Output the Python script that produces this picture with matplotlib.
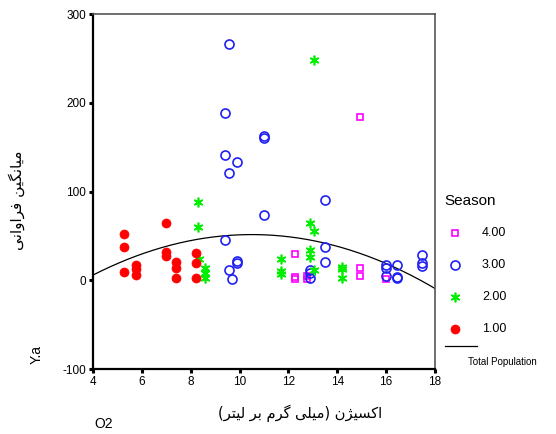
import numpy as np
import matplotlib
matplotlib.use("Agg")
import matplotlib.pyplot as plt
from matplotlib.lines import Line2D

# ---------------- data ----------------
s1_x = [5.25, 5.25, 5.25, 5.75, 5.75, 5.75, 7.0, 7.0, 7.0, 7.4, 7.4, 7.4, 8.2, 8.2, 8.2]
s1_y = [52, 37, 9, 17, 13, 6, 64, 32, 27, 21, 14, 3, 31, 19, 2]

s2_x = [8.3, 8.3, 8.35, 8.6, 8.6, 8.6, 11.7, 11.7, 11.7, 12.9, 12.9, 12.9, 13.05, 13.05, 13.05, 14.2, 14.2, 14.2]
s2_y = [88, 60, 24, 14, 8, 3, 24, 10, 7, 65, 34, 26, 55, 12, 248, 15, 13, 3]

s3_x = [9.55, 9.4, 11.0, 11.0, 9.4, 9.9, 9.55, 13.5, 11.0, 9.4, 13.5, 13.5, 9.55, 9.7, 9.9, 9.9,
        12.9, 12.9, 12.9, 16.0, 16.0, 16.0, 16.45, 16.45, 16.45, 17.45, 17.45, 17.45]
s3_y = [266, 188, 163, 160, 141, 133, 121, 90, 74, 45, 37, 21, 12, 1.5, 22, 19,
        12, 8, 3, 17, 14, 5, 17, 4, 3, 29, 20, 16]

s4_x = [12.25, 12.25, 12.25, 12.75, 12.75, 14.95, 14.95, 14.95, 16.0]
s4_y = [30, 4, 1.5, 5, 1, 184, 14, 5, 1]

# quadratic "Total Population" fit line, coefficients
fit_coef = [-1.08, 22.68, -67.6]
fit_range = [4, 18]

season_labels = ["4.00", "3.00", "2.00", "1.00"]
x_ticks = [4, 6, 8, 10, 12, 14, 16, 18]
y_ticks = [-100, 0, 100, 200, 300]

ylabel_text_logical = "میانگین فراوانی"
xlabel_text_logical = "اکسیژن (میلی گرم بر لیتر)"

# ---------------- simple Arabic/Persian shaping (presentation forms) ----------------
FORMS = {
    "ا": ("\uFE8D", "\uFE8E"),
    "ر": ("\uFEAD", "\uFEAE"),
    "ز": ("\uFEAF", "\uFEB0"),
    "ژ": ("\uFB8A", "\uFB8B"),
    "و": ("\uFEED", "\uFEEE"),
    "د": ("\uFEA9", "\uFEAA"),
    "ب": ("\uFE8F", "\uFE90", "\uFE91", "\uFE92"),
    "ت": ("\uFE95", "\uFE96", "\uFE97", "\uFE98"),
    "س": ("\uFEB1", "\uFEB2", "\uFEB3", "\uFEB4"),
    "ف": ("\uFED1", "\uFED2", "\uFED3", "\uFED4"),
    "ل": ("\uFEDD", "\uFEDE", "\uFEDF", "\uFEE0"),
    "م": ("\uFEE1", "\uFEE2", "\uFEE3", "\uFEE4"),
    "ن": ("\uFEE5", "\uFEE6", "\uFEE7", "\uFEE8"),
    "ی": ("\uFBFC", "\uFBFD", "\uFBFE", "\uFBFF"),
    "ک": ("\uFB8E", "\uFB8F", "\uFB90", "\uFB91"),
    "گ": ("\uFB92", "\uFB93", "\uFB94", "\uFB95"),
}


def shape(text):
    out = []
    n = len(text)
    for i, c in enumerate(text):
        if c not in FORMS:
            out.append(c)
            continue
        f = FORMS[c]
        prev = text[i - 1] if i > 0 else None
        nxt = text[i + 1] if i < n - 1 else None
        join_prev = prev in FORMS and len(FORMS[prev]) == 4
        join_next = len(f) == 4 and nxt in FORMS
        if join_prev and join_next:
            out.append(f[3])
        elif join_prev:
            out.append(f[1])
        elif join_next:
            out.append(f[2])
        else:
            out.append(f[0])
    return "".join(out)


def rtl_visual(text):
    # shape, then lay out right-to-left (renderer draws left-to-right)
    s = shape(text)[::-1]
    return s.translate(str.maketrans("()", ")("))


ylabel_text = rtl_visual(ylabel_text_logical)
xlabel_text = rtl_visual(xlabel_text_logical)

# ---------------- figure ----------------
plt.rcParams["font.family"] = ["Liberation Sans", "DejaVu Sans"]
plt.rcParams["axes.unicode_minus"] = False

W, H = 556, 434
fig = plt.figure(figsize=(W / 100, H / 100), dpi=100)
ax = fig.add_axes([93 / W, 1 - 369 / H, (435 - 93) / W, (369 - 14) / H])

col4, col3, col2, col1 = "#FF00FF", "#2020F0", "#00EE00", "#FF0000"
star = (6, 2, 0)

ax.plot(s4_x, s4_y, ls="none", marker="s", ms=4.3, mfc="none", mec=col4, mew=1.2, zorder=3)
ax.plot(s3_x, s3_y, ls="none", marker="o", ms=6.5, mfc="none", mec=col3, mew=1.2, zorder=3)
ax.plot(s2_x, s2_y, ls="none", marker=star, ms=7, mfc="none", mec=col2, mew=1.2, zorder=3)
ax.plot(s1_x, s1_y, ls="none", marker="o", ms=6.5, mfc=col1, mec=col1, mew=0.5, zorder=3)

xx = np.linspace(fit_range[0], fit_range[1], 200)
ax.plot(xx, np.polyval(fit_coef, xx), color="black", lw=0.9, zorder=2)

ax.set_xlim(4, 18)
ax.set_ylim(-100, 300)
ax.set_xticks(x_ticks)
ax.set_yticks(y_ticks)
ax.tick_params(direction="out", length=3, width=2.2, labelsize=8.5, pad=2)
for s in ["left", "bottom"]:
    ax.spines[s].set_linewidth(1.6)
    ax.spines[s].set_color("black")
for s in ["top", "right"]:
    ax.spines[s].set_linewidth(1.2)
    ax.spines[s].set_color("#555555")

# axis titles
fig.text(17 / W, 1 - 200 / H, ylabel_text, rotation=90, ha="center", va="center",
         fontsize=11, family=["DejaVu Sans"])
fig.text(37 / W, 1 - 355 / H, "Y.a", rotation=90, ha="center", va="center", fontsize=10)
fig.text(300 / W, 1 - 413 / H, xlabel_text, ha="center", va="center",
         fontsize=10.5, family=["DejaVu Sans"])
fig.text(104 / W, 1 - 424 / H, "O2", ha="center", va="center", fontsize=10)

# legend (manual)
fig.text(444 / W, 1 - 201 / H, "Season", ha="left", va="center", fontsize=11)
leg_y = [233, 265, 297, 329]
leg_styles = [
    dict(marker="s", ms=4.3, mfc="none", mec=col4, mew=1.2),
    dict(marker="o", ms=6.5, mfc="none", mec=col3, mew=1.2),
    dict(marker=star, ms=7, mfc="none", mec=col2, mew=1.2),
    dict(marker="o", ms=6.5, mfc=col1, mec=col1, mew=0.5),
]
for yy, lab, st in zip(leg_y, season_labels, leg_styles):
    fig.add_artist(Line2D([455 / W], [1 - yy / H], ls="none", transform=fig.transFigure, **st))
    fig.text(482 / W, 1 - yy / H, lab, ha="left", va="center", fontsize=9)
fig.add_artist(Line2D([445 / W, 477 / W], [1 - 346 / H, 1 - 346 / H], color="black",
                      lw=0.9, transform=fig.transFigure))
fig.text(468 / W, 1 - 362 / H, "Total Population", ha="left", va="center", fontsize=7)

fig.savefig("out.png", dpi=100)
